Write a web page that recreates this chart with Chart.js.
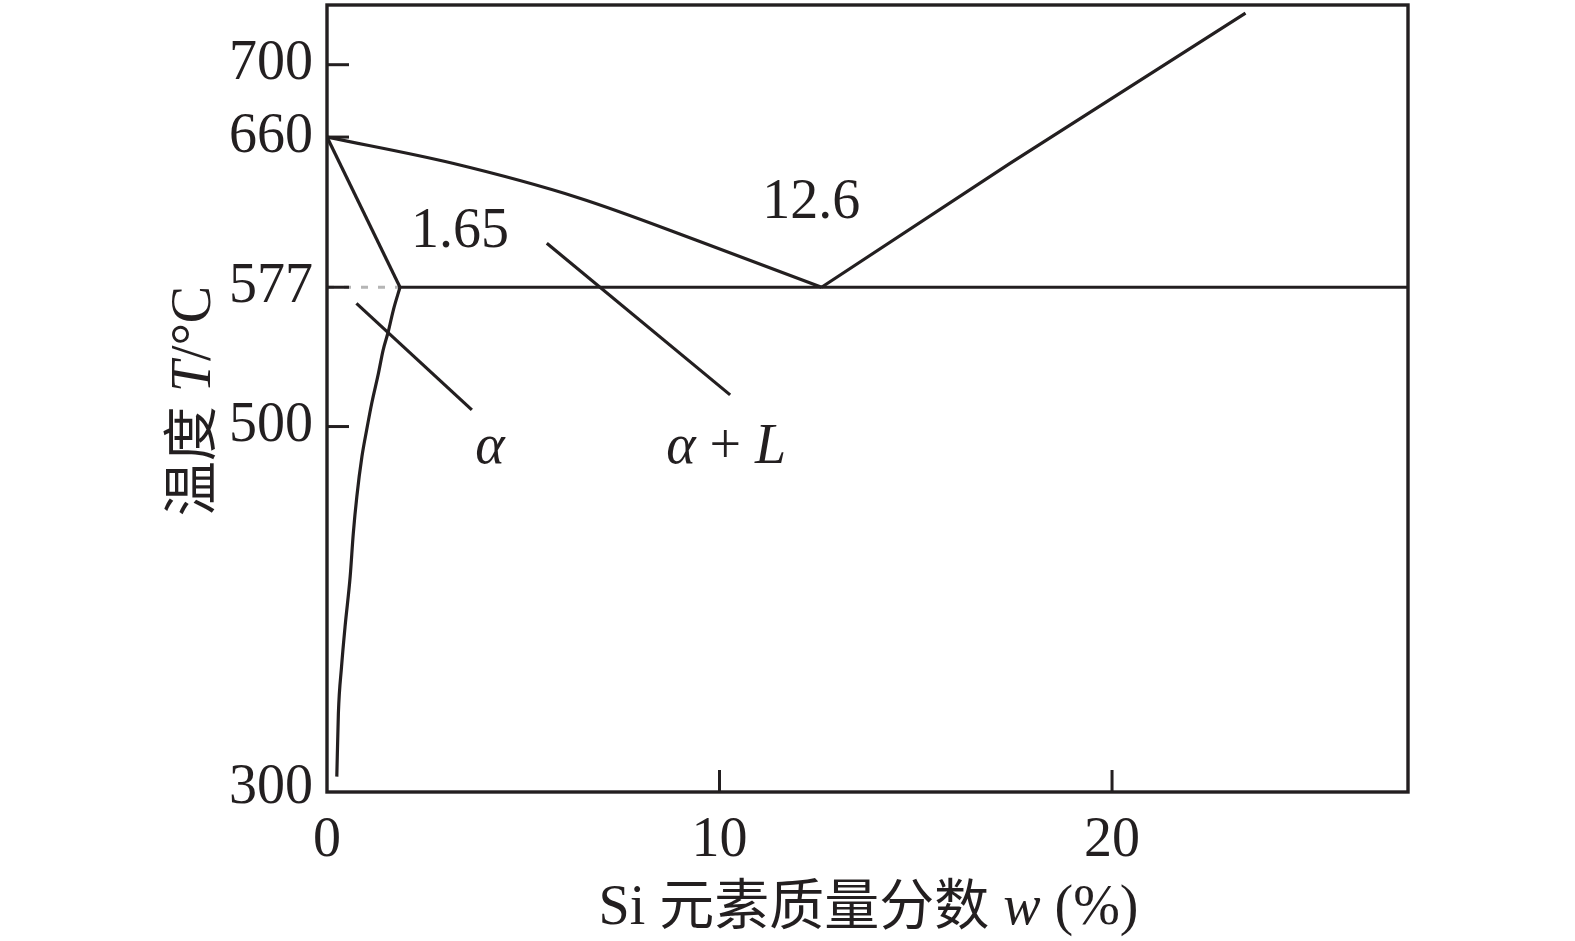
<!DOCTYPE html>
<html>
<head>
<meta charset="utf-8">
<script src="https://cdn.jsdelivr.net/npm/chart.js@4.4.1/dist/chart.umd.min.js"></script>
<style>
html,body{margin:0;padding:0;background:#fff;overflow:hidden}
#wrap{width:1575px;height:941px;position:relative}
</style>
</head>
<body>
<div id="wrap"><canvas id="c" width="1575" height="941"></canvas></div>
<script>
// ---- data (Si mass fraction w in %, temperature T in °C) ----
const liquidusLeftX = [0, 3.2, 6.4, 9.6, 12.6];
const liquidusLeftT = [660, 645.5, 626.5, 601.5, 577];
const liquidusRightX = [12.6, 17.4, 23.4];
const liquidusRightT = [577, 645.5, 728.5];
const solidusX = [0, 1.86];
const solidusT = [660, 577];
const solvusX = [0.25, 0.29, 0.37, 0.46, 0.59, 0.67, 0.76, 0.89, 1.01, 1.14, 1.31, 1.43, 1.56, 1.69, 1.86];
const solvusT = [306.5, 341.5, 367.1, 389.4, 417.0, 441.0, 461.3, 483.4, 498.1, 512.9, 529.4, 542.3, 552.4, 564.4, 577];
const eutecticX = [1.86, 27.54];
const eutecticT = [577, 577];
const guideX = [0, 1.86];
const guideT = [577, 577];
const alphaPointerX = [0.75, 3.69];
const alphaPointerT = [568.1, 509.2];
const alphaLPointerX = [5.6, 10.27];
const alphaLPointerT = [601.3, 517.5];
const xTickValues = [0, 10, 20];
const yTickValues = [300, 500, 577, 660, 700];
const labelTexts = ['1.65', '12.6', 'α', 'α + L'];
const labelX = [3.39, 12.34, 4.15, 10.17];
const labelT = [599.3, 615.1, 479.9, 479.9];

const INK = '#231f20';
const SERIF = '56px "Liberation Serif", "Times New Roman", serif';
const ITAL = 'italic 56px "Liberation Serif", "Times New Roman", serif';
const CJK = '55px "Noto Sans CJK SC", sans-serif';

const pts = (xs, ys) => xs.map((v, i) => ({x: v, y: ys[i]}));
const lineDs = (data, extra) => Object.assign({
  data, showLine: true, pointRadius: 0, borderColor: INK, borderWidth: 3.2,
  tension: 0, fill: false
}, extra || {});

function drawRuns(ctx, runs, cx, by) {
  let total = 0;
  runs.forEach(r => { ctx.font = r.f; r.w = ctx.measureText(r.t).width; total += r.w; });
  let x0 = cx - total / 2;
  ctx.textAlign = 'left';
  ctx.textBaseline = 'alphabetic';
  runs.forEach(r => { ctx.font = r.f; ctx.fillText(r.t, x0, by); x0 += r.w; });
}

function runsFor(text) {
  if (text === 'α') return [{t: 'α', f: ITAL}];
  if (text === 'α + L') return [{t: 'α', f: ITAL}, {t: ' + ', f: SERIF}, {t: 'L', f: ITAL}];
  return [{t: text, f: SERIF}];
}

const decor = {
  id: 'decor',
  afterDraw(chart) {
    const {ctx, chartArea: a, scales: {x, y}} = chart;
    ctx.save();
    ctx.strokeStyle = INK;
    ctx.fillStyle = INK;
    ctx.lineWidth = 3.4;
    ctx.lineCap = 'butt';
    ctx.strokeRect(a.left, a.top, a.right - a.left, a.bottom - a.top);
    // inward tick marks
    ctx.lineWidth = 3;
    yTickValues.forEach(v => {
      if (v - y.min < 5) return;
      const py = y.getPixelForValue(v);
      ctx.beginPath(); ctx.moveTo(a.left, py); ctx.lineTo(a.left + 22, py); ctx.stroke();
    });
    xTickValues.forEach(v => {
      if (v === x.min) return;
      const px = x.getPixelForValue(v);
      ctx.beginPath(); ctx.moveTo(px, a.bottom); ctx.lineTo(px, a.bottom - 22); ctx.stroke();
    });
    // in-plot labels
    labelTexts.forEach((t, i) => {
      drawRuns(ctx, runsFor(t), x.getPixelForValue(labelX[i]), y.getPixelForValue(labelT[i]));
    });
    // x axis title
    drawRuns(ctx, [
      {t: 'Si ', f: SERIF}, {t: '元素质量分数', f: CJK}, {t: ' ', f: SERIF},
      {t: 'w', f: ITAL}, {t: ' (%)', f: SERIF}
    ], (a.left + a.right) / 2 + 1, 924);
    // y axis title
    ctx.save();
    ctx.translate(210, 401);
    ctx.rotate(-Math.PI / 2);
    drawRuns(ctx, [
      {t: '温度', f: CJK}, {t: ' ', f: SERIF}, {t: 'T', f: ITAL}, {t: '/°C', f: SERIF}
    ], 0, 0);
    ctx.restore();
    ctx.restore();
  }
};

new Chart(document.getElementById('c'), {
  type: 'scatter',
  data: {
    datasets: [
      lineDs(pts(liquidusLeftX, liquidusLeftT), {cubicInterpolationMode: 'monotone'}),
      lineDs(pts(liquidusRightX, liquidusRightT)),
      lineDs(pts(solidusX, solidusT)),
      lineDs(pts(solvusX, solvusT), {cubicInterpolationMode: 'monotone'}),
      lineDs(pts(eutecticX, eutecticT)),
      lineDs(pts(alphaPointerX, alphaPointerT)),
      lineDs(pts(alphaLPointerX, alphaLPointerT)),
      lineDs(pts(guideX, guideT), {borderColor: '#b5b5b5', borderDash: [7, 10], borderWidth: 3})
    ]
  },
  options: {
    responsive: false,
    animation: false,
    devicePixelRatio: 1,
    layout: {autoPadding: false, padding: {left: 0, right: 167, top: 5, bottom: 0}},
    plugins: {legend: {display: false}, tooltip: {enabled: false}},
    scales: {
      x: {
        type: 'linear', min: 0, max: 27.54,
        grid: {display: false, drawTicks: false},
        border: {display: false},
        afterBuildTicks: s => { s.ticks = xTickValues.map(v => ({value: v})); },
        afterFit: s => { s.height = 149; s.paddingLeft = 0; s.paddingRight = 0; },
        ticks: {padding: 16, color: INK, font: {family: '"Liberation Serif", serif', size: 56}, callback: v => String(v), maxRotation: 0, autoSkip: false}
      },
      y: {
        type: 'linear', min: 298, max: 733,
        grid: {display: false, drawTicks: false},
        border: {display: false},
        afterBuildTicks: s => { s.ticks = yTickValues.map(v => ({value: v})); },
        afterFit: s => { s.width = 327; s.paddingTop = 0; s.paddingBottom = 0; },
        ticks: {padding: 14, color: INK, font: {family: '"Liberation Serif", serif', size: 56}, callback: v => String(v), autoSkip: false}
      }
    }
  },
  plugins: [decor]
});
</script>
</body>
</html>
